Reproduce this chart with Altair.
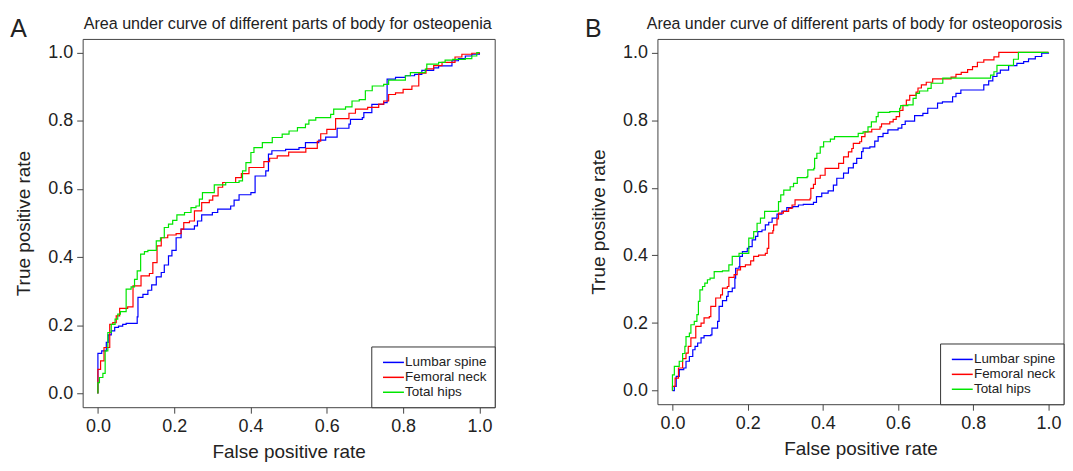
import altair as alt
import pandas as pd

# ---------------- data ----------------
SERIES = ["Lumbar spine", "Femoral neck", "Total hips"]
COLORS = ["#0000ff", "#ff0000", "#00e600"]
TICKS = [0.0, 0.2, 0.4, 0.6, 0.8, 1.0]

TITLE_A = "Area under curve of different parts of body for osteopenia"
TITLE_B = "Area under curve of different parts of body for osteoporosis"

# Panel A - osteopenia
a_lumbar_fpr = [0, 0, 0.010, 0.022, 0.027, 0.035, 0.044, 0.054, 0.065, 0.074, 0.103, 0.105, 0.118, 0.131, 0.141,
                0.153, 0.166, 0.174, 0.185, 0.194, 0.205, 0.218, 0.253, 0.261, 0.272, 0.300, 0.314, 0.348, 0.357,
                0.370, 0.401, 0.412, 0.440, 0.447, 0.456, 0.492, 0.527, 0.544, 0.579, 0.597, 0.627, 0.658, 0.662,
                0.693, 0.697, 0.718, 0.749, 0.758, 0.780, 0.806, 0.830, 0.849, 0.880, 0.893, 0.928, 0.945, 0.963,
                0.980, 1.0]
a_lumbar_tpr = [0, 0.118, 0.125, 0.150, 0.172, 0.184, 0.194, 0.198, 0.203, 0.206, 0.225, 0.282, 0.291, 0.303, 0.319,
                0.342, 0.355, 0.377, 0.404, 0.420, 0.457, 0.482, 0.492, 0.506, 0.524, 0.531, 0.541, 0.550, 0.567,
                0.583, 0.589, 0.638, 0.653, 0.702, 0.712, 0.716, 0.721, 0.736, 0.743, 0.752, 0.778, 0.790, 0.804,
                0.809, 0.824, 0.848, 0.853, 0.922, 0.927, 0.932, 0.936, 0.948, 0.955, 0.961, 0.976, 0.982, 0.990,
                0.995, 1.0]
a_femoral_fpr = [0, 0, 0.007, 0.016, 0.031, 0.039, 0.048, 0.057, 0.078, 0.092, 0.113, 0.135, 0.144, 0.155, 0.166,
                 0.183, 0.205, 0.218, 0.225, 0.240, 0.253, 0.272, 0.292, 0.301, 0.315, 0.327, 0.361, 0.376, 0.396,
                 0.435, 0.450, 0.470, 0.500, 0.545, 0.575, 0.584, 0.600, 0.623, 0.658, 0.675, 0.707, 0.736, 0.749,
                 0.762, 0.780, 0.800, 0.823, 0.841, 0.860, 0.880, 0.902, 0.936, 0.954, 0.980, 1.0]
a_femoral_tpr = [0, 0.071, 0.096, 0.135, 0.203, 0.208, 0.228, 0.250, 0.254, 0.316, 0.345, 0.352, 0.384, 0.433, 0.457,
                 0.465, 0.469, 0.482, 0.501, 0.506, 0.536, 0.560, 0.567, 0.580, 0.605, 0.619, 0.633, 0.645, 0.663,
                 0.680, 0.690, 0.697, 0.708, 0.719, 0.740, 0.762, 0.775, 0.806, 0.822, 0.834, 0.839, 0.849, 0.858,
                 0.877, 0.882, 0.892, 0.902, 0.940, 0.952, 0.962, 0.971, 0.987, 0.995, 0.998, 1.0]
a_hips_fpr = [0, 0, 0.004, 0.013, 0.019, 0.026, 0.035, 0.045, 0.052, 0.059, 0.074, 0.087, 0.096, 0.103, 0.112,
              0.122, 0.131, 0.153, 0.164, 0.174, 0.185, 0.196, 0.207, 0.227, 0.244, 0.257, 0.266, 0.274, 0.305,
              0.335, 0.370, 0.379, 0.388, 0.401, 0.409, 0.431, 0.457, 0.483, 0.501, 0.523, 0.544, 0.553, 0.571,
              0.610, 0.618, 0.649, 0.666, 0.685, 0.701, 0.719, 0.749, 0.762, 0.806, 0.819, 0.858, 0.862, 0.893,
              0.910, 0.930, 0.963, 0.980, 0.993, 1.0]
a_hips_tpr = [0, 0.032, 0.047, 0.059, 0.125, 0.179, 0.203, 0.218, 0.233, 0.240, 0.306, 0.313, 0.335, 0.360, 0.409,
              0.416, 0.420, 0.448, 0.457, 0.487, 0.497, 0.508, 0.524, 0.531, 0.545, 0.550, 0.570, 0.589, 0.612,
              0.619, 0.624, 0.653, 0.677, 0.707, 0.721, 0.736, 0.751, 0.761, 0.770, 0.780, 0.790, 0.802, 0.809,
              0.819, 0.834, 0.841, 0.858, 0.862, 0.888, 0.902, 0.907, 0.919, 0.932, 0.941, 0.951, 0.966, 0.971,
              0.978, 0.980, 0.982, 0.990, 1.0, 1.0]

# Panel B - osteoporosis
b_lumbar_fpr = [0, 0.005, 0.010, 0.018, 0.030, 0.036, 0.045, 0.054, 0.060, 0.067, 0.076, 0.084, 0.102, 0.105, 0.120,
                0.124, 0.133, 0.144, 0.148, 0.159, 0.166, 0.168, 0.177, 0.179, 0.186, 0.199, 0.203, 0.212, 0.221,
                0.227, 0.238, 0.247, 0.256, 0.265, 0.278, 0.291, 0.304, 0.320, 0.335, 0.348, 0.375, 0.383, 0.397,
                0.414, 0.428, 0.437, 0.455, 0.468, 0.481, 0.490, 0.503, 0.507, 0.525, 0.538, 0.547, 0.560, 0.573,
                0.600, 0.610, 0.619, 0.644, 0.666, 0.679, 0.705, 0.718, 0.745, 0.754, 0.767, 0.828, 0.841, 0.852,
                0.863, 0.872, 0.894, 0.916, 0.934, 0.947, 0.965, 0.982, 1.0]
b_lumbar_tpr = [0, 0.013, 0.042, 0.062, 0.067, 0.087, 0.101, 0.121, 0.131, 0.141, 0.156, 0.163, 0.165, 0.185, 0.205,
                0.249, 0.266, 0.279, 0.293, 0.303, 0.333, 0.362, 0.367, 0.397, 0.411, 0.421, 0.426, 0.446, 0.456,
                0.470, 0.475, 0.490, 0.498, 0.510, 0.522, 0.531, 0.541, 0.544, 0.549, 0.551, 0.557, 0.574, 0.584,
                0.591, 0.608, 0.628, 0.643, 0.659, 0.672, 0.687, 0.707, 0.717, 0.721, 0.738, 0.751, 0.761, 0.771,
                0.776, 0.787, 0.797, 0.813, 0.820, 0.835, 0.850, 0.854, 0.869, 0.879, 0.889, 0.904, 0.916, 0.929,
                0.939, 0.948, 0.961, 0.968, 0.973, 0.981, 0.988, 0.998, 1.0]
b_femoral_fpr = [0, 0, 0.007, 0.016, 0.027, 0.036, 0.042, 0.049, 0.062, 0.076, 0.084, 0.098, 0.102, 0.115, 0.128,
                 0.133, 0.146, 0.150, 0.164, 0.172, 0.181, 0.194, 0.208, 0.216, 0.229, 0.247, 0.252, 0.256, 0.267,
                 0.269, 0.278, 0.282, 0.295, 0.309, 0.318, 0.326, 0.366, 0.368, 0.375, 0.380, 0.393, 0.406, 0.442,
                 0.455, 0.468, 0.477, 0.481, 0.498, 0.503, 0.512, 0.530, 0.552, 0.556, 0.578, 0.587, 0.595, 0.604,
                 0.613, 0.622, 0.631, 0.648, 0.653, 0.662, 0.675, 0.692, 0.741, 0.754, 0.768, 0.785, 0.798, 0.811,
                 0.828, 0.855, 0.868, 1.0]
b_femoral_tpr = [0, 0.013, 0.037, 0.067, 0.095, 0.111, 0.131, 0.156, 0.190, 0.200, 0.215, 0.219, 0.249, 0.274, 0.283,
                 0.303, 0.308, 0.335, 0.343, 0.357, 0.367, 0.372, 0.384, 0.397, 0.401, 0.406, 0.421, 0.466, 0.473,
                 0.490, 0.508, 0.525, 0.530, 0.539, 0.549, 0.564, 0.569, 0.598, 0.610, 0.628, 0.637, 0.657, 0.672,
                 0.691, 0.706, 0.716, 0.731, 0.736, 0.751, 0.765, 0.773, 0.780, 0.789, 0.795, 0.802, 0.810, 0.829,
                 0.844, 0.859, 0.873, 0.883, 0.895, 0.904, 0.912, 0.922, 0.927, 0.935, 0.941, 0.949, 0.958, 0.971,
                 0.978, 0.987, 1.0, 1.0]
b_hips_fpr = [0, 0, 0.005, 0.018, 0.027, 0.033, 0.036, 0.045, 0.049, 0.058, 0.065, 0.069, 0.073, 0.080, 0.086,
              0.093, 0.100, 0.111, 0.133, 0.150, 0.159, 0.177, 0.203, 0.203, 0.216, 0.225, 0.234, 0.245, 0.274,
              0.282, 0.288, 0.296, 0.313, 0.322, 0.332, 0.358, 0.360, 0.376, 0.378, 0.384, 0.393, 0.402, 0.420,
              0.431, 0.494, 0.507, 0.520, 0.529, 0.542, 0.547, 0.578, 0.604, 0.607, 0.626, 0.640, 0.648, 0.657,
              0.679, 0.688, 0.719, 0.846, 0.855, 0.863, 0.907, 0.920, 1.0]
b_hips_tpr = [0, 0.047, 0.072, 0.087, 0.110, 0.131, 0.160, 0.170, 0.195, 0.205, 0.225, 0.264, 0.298, 0.308, 0.318,
              0.328, 0.333, 0.352, 0.354, 0.372, 0.397, 0.406, 0.408, 0.451, 0.470, 0.495, 0.510, 0.530, 0.531,
              0.559, 0.579, 0.593, 0.603, 0.613, 0.630, 0.633, 0.653, 0.657, 0.687, 0.702, 0.721, 0.736, 0.744,
              0.751, 0.761, 0.765, 0.780, 0.795, 0.810, 0.823, 0.825, 0.835, 0.843, 0.845, 0.864, 0.879, 0.886,
              0.894, 0.909, 0.924, 0.933, 0.943, 0.962, 0.980, 1.0, 1.0]


def build_df(parts):
    rows = []
    for name, fpr, tpr in parts:
        for i, (x, y) in enumerate(zip(fpr, tpr)):
            rows.append({"series": name, "fpr": x, "tpr": y, "idx": i})
    return pd.DataFrame(rows)


df_a = build_df([(SERIES[0], a_lumbar_fpr, a_lumbar_tpr),
                 (SERIES[1], a_femoral_fpr, a_femoral_tpr),
                 (SERIES[2], a_hips_fpr, a_hips_tpr)])
df_b = build_df([(SERIES[0], b_lumbar_fpr, b_lumbar_tpr),
                 (SERIES[1], b_femoral_fpr, b_femoral_tpr),
                 (SERIES[2], b_hips_fpr, b_hips_tpr)])

FONT = "Liberation Sans"
TXT = "#222222"


def panel(df, title, letter, w, h, title_x, title_size):
    lines = alt.Chart(df).mark_line(interpolate="step-after", strokeWidth=1.2).encode(
        x=alt.X("fpr:Q",
                scale=alt.Scale(domain=[-0.04, 1.04], nice=False, zero=False),
                axis=alt.Axis(values=TICKS, format=".1f", title="False positive rate",
                              labelPadding=4, titlePadding=8)),
        y=alt.Y("tpr:Q",
                scale=alt.Scale(domain=[-0.04, 1.04], nice=False, zero=False),
                axis=alt.Axis(values=TICKS, format=".1f", title="True positive rate",
                              labelPadding=4, titlePadding=14)),
        color=alt.Color("series:N",
                        scale=alt.Scale(domain=SERIES, range=COLORS),
                        legend=alt.Legend(title=None, orient="bottom-right", offset=0, padding=8,
                                          strokeColor="#333333", fillColor="white", cornerRadius=0,
                                          symbolType="M-0.6,0H2.4", symbolSize=196, symbolStrokeWidth=1.5,
                                          labelFont=FONT, labelFontSize=13.5, labelColor=TXT,
                                          labelOffset=10, rowPadding=0, labelLimit=300)),
        order=alt.Order("idx:Q"),
    )
    lab = alt.Chart(pd.DataFrame({"label": [letter]})).mark_text(
        align="left", baseline="alphabetic", fontSize=25, font=FONT, color=TXT
    ).encode(x=alt.value(-72.7), y=alt.value(-2), text="label:N")
    ttl = alt.Chart(pd.DataFrame({"label": [title]})).mark_text(
        align="center", baseline="alphabetic", fontSize=title_size, font=FONT, color=TXT
    ).encode(x=alt.value(title_x), y=alt.value(-10.3), text="label:N")
    return alt.layer(lines, lab, ttl).properties(width=w, height=h)


chart = alt.hconcat(
    panel(df_a, TITLE_A, "A", 414, 370, 206, 16.2),
    panel(df_b, TITLE_B, "B", 408, 367, 198, 16),
    spacing=88.5,
).resolve_scale(color="independent").resolve_legend(color="independent").properties(
    padding={"left": 1, "top": 6, "right": 0, "bottom": 0},
    background="white",
).configure_view(
    stroke="#444444", strokeWidth=1
).configure_axis(
    grid=False, domain=False, tickColor="#444444", tickSize=6, tickWidth=1,
    labelFont=FONT, labelFontSize=18, labelColor=TXT,
    titleFont=FONT, titleFontSize=19, titleColor=TXT, titleFontWeight="normal",
)

chart.save("out.html", embed_options={"renderer": "svg", "actions": False})
